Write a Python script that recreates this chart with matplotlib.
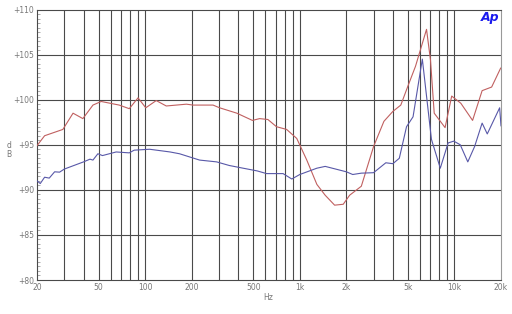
import numpy as np
import matplotlib
matplotlib.use("Agg")
import matplotlib.pyplot as plt
from matplotlib.ticker import FixedLocator, NullFormatter, MultipleLocator

red_f = [20, 22.4, 29.4, 34.2, 39.6, 46, 52, 68, 79, 90, 101, 118, 137, 185, 204, 275, 303,
         392, 494, 550, 622, 707, 822, 956, 1110, 1290, 1460, 1680, 1910, 2100, 2500, 3000,
         3500, 4000, 4500, 5000, 5600, 6600, 7000, 7400, 8700, 9600, 11000, 13100, 15100,
         17400, 19900]
red_db = [94.9, 96.0, 96.7, 98.5, 97.9, 99.4, 99.8, 99.4, 99.0, 100.2, 99.1, 99.9, 99.3,
          99.5, 99.4, 99.4, 99.1, 98.5, 97.7, 97.9, 97.8, 97.0, 96.7, 95.7, 93.3, 90.6, 89.4,
          88.3, 88.4, 89.4, 90.4, 94.8, 97.6, 98.7, 99.4, 101.5, 103.7, 107.8, 104.4, 98.5,
          96.9, 100.4, 99.6, 97.7, 101.0, 101.4, 103.5]

blue_f = [20, 21, 22.4, 24, 26, 28, 30, 40, 44, 46, 49.5, 53, 65, 79, 85, 107, 145, 167,
          198, 225, 290, 350, 430, 530, 610, 700, 780, 888, 1000, 1290, 1460, 2000, 2200,
          2500, 3000, 3600, 4000, 4400, 4900, 5400, 6200, 6600, 7100, 8100, 9100, 9900,
          10900, 12200, 13500, 15100, 16300, 19600, 20000]
blue_db = [91.0, 90.7, 91.4, 91.3, 92.0, 91.96, 92.3, 93.1, 93.4, 93.3, 94.0, 93.8, 94.2,
           94.1, 94.4, 94.5, 94.2, 94.0, 93.6, 93.3, 93.1, 92.7, 92.4, 92.1, 91.8, 91.8,
           91.8, 91.2, 91.7, 92.4, 92.6, 92.0, 91.7, 91.85, 91.9, 93.0, 92.9, 93.5, 97.0,
           98.1, 104.5, 100.4, 95.6, 92.4, 95.2, 95.4, 95.0, 93.1, 94.8, 97.4, 96.2, 99.1,
           97.1]

x_ticks = [20, 50, 100, 200, 500, 1000, 2000, 5000, 10000, 20000]
x_labels = ["20", "50", "100", "200", "500", "1k", "2k", "5k", "10k", "20k"]
y_ticks = [80, 85, 90, 95, 100, 105, 110]
y_labels = ["+80", "+85", "+90", "+95", "+100", "+105", "+110"]

fig = plt.figure(figsize=(5.12, 3.14), dpi=100)
ax = fig.add_axes([37/512, 1 - 280/314, (501 - 37)/512, (280 - 9.5)/314])
ax.set_xscale("log")
ax.set_xlim(20, 20000)
ax.set_ylim(80, 110)

grid_col = "#4a4a4a"
vgrid = [d * m for d in (10, 100, 1000, 10000) for m in range(2, 10) if 20 < d * m < 20000]
vgrid += [100, 1000, 10000]
for v in sorted(set(vgrid)):
    ax.axvline(v, color=grid_col, lw=0.8, zorder=1)
for h in y_ticks[1:-1]:
    ax.axhline(h, color=grid_col, lw=0.8, zorder=1)

ax.plot(red_f, red_db, color="#c06060", lw=0.8, zorder=3)
ax.plot(blue_f, blue_db, color="#5858a8", lw=0.8, zorder=3)

ax.xaxis.set_major_locator(FixedLocator(x_ticks))
ax.set_xticklabels(x_labels)
ax.xaxis.set_minor_locator(FixedLocator([]))
ax.xaxis.set_minor_formatter(NullFormatter())
ax.set_yticks(y_ticks)
ax.set_yticklabels(y_labels)
ax.yaxis.set_minor_locator(MultipleLocator(0.5))
ax.tick_params(axis="both", which="major", labelsize=5.5, colors="#777777", length=0, pad=2)
ax.tick_params(axis="y", which="minor", direction="in", length=2.5, color="#888888", width=0.5)
ax.tick_params(axis="y", which="major", direction="in", length=0)
for sp in ax.spines.values():
    sp.set_color(grid_col)
    sp.set_linewidth(0.8)
ax.spines["right"].set_color("#999999")

fig.text(9/512, 1 - 150/314, "d\nB", fontsize=5.5, color="#777777", ha="center", va="center",
         linespacing=1.0)
fig.text(268/512, 1 - 297/314, "Hz", fontsize=5.5, color="#777777", ha="center", va="center")
fig.text(490/512, 1 - 17/314, "Ap", fontsize=9, color="#1a1aee", ha="center", va="center",
         fontweight="bold", style="italic")

fig.savefig("out.png", dpi=100)
